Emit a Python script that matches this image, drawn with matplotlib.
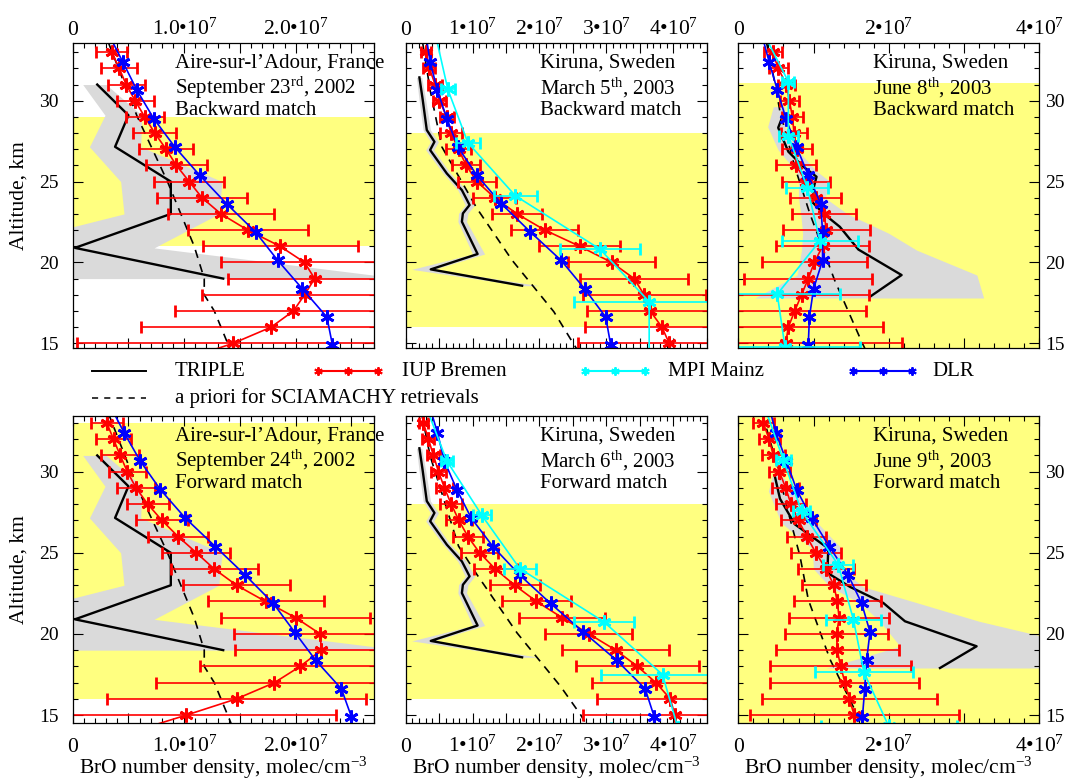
import matplotlib
matplotlib.use("Agg")
import matplotlib.pyplot as plt
from matplotlib.lines import Line2D
from matplotlib.ticker import MultipleLocator

plt.rcParams["font.family"] = ["Liberation Serif", "DejaVu Serif"]
plt.rcParams["mathtext.fontset"] = "custom"
plt.rcParams["mathtext.rm"] = "Liberation Serif"
plt.rcParams["mathtext.it"] = "Liberation Serif:italic"

RED, BLUE, CYAN = "#ff0000", "#0000ff", "#00ffff"
YELLOW, GREY = "#ffff80", "#dadada"

# all densities in units of 1e7 molec/cm^3
IUP_ALT_AIRE = [33, 32, 31, 30, 29, 28, 27, 26, 25, 24, 23, 22, 21, 20, 19, 18, 17, 16, 15, 14]
IUP_ALT_KIR = [33, 32, 31, 30, 29, 28, 27, 26, 25, 24, 23, 22, 21, 20, 19, 18, 17, 16, 15]
DLR_ALT = [34.14, 32.39, 30.64, 28.89, 27.14, 25.38, 23.63, 21.88, 20.12, 18.37, 16.62, 14.9]

# Aire-sur-l'Adour, Sep 23 (backward)
iup_sep23 = [0.351, 0.417, 0.48, 0.56, 0.646, 0.736, 0.838, 0.93, 1.045, 1.16, 1.33, 1.57,
             1.86, 2.08, 2.17, 2.08, 1.98, 1.78, 1.44, 1.0]
iup_sep23_err = [0.14, 0.16, 0.165, 0.165, 0.17, 0.195, 0.24, 0.275, 0.315, 0.405, 0.475,
                 0.54, 0.695, 0.75, 0.78, 0.92, 1.06, 1.17, 1.4, 1.5]
dlr_sep23 = [0.32, 0.45, 0.577, 0.727, 0.916, 1.14, 1.38, 1.64, 1.84, 2.06, 2.28, 2.33]

# Aire-sur-l'Adour, Sep 24 (forward)
iup_sep24 = [0.306, 0.366, 0.426, 0.49, 0.568, 0.673, 0.80, 0.946, 1.11, 1.27, 1.47, 1.73,
             2.0, 2.22, 2.23, 2.04, 1.81, 1.47, 1.02, 0.55]
iup_sep24_err = [0.143, 0.156, 0.173, 0.168, 0.173, 0.188, 0.23, 0.27, 0.305, 0.39, 0.48,
                 0.52, 0.67, 0.77, 0.77, 0.9, 1.06, 1.16, 1.34, 1.4]
dlr_sep24 = [0.33, 0.462, 0.607, 0.787, 1.01, 1.28, 1.547, 1.80, 1.99, 2.18, 2.41, 2.50]

# Kiruna, Mar 5 (backward)
iup_mar5 = [0.305, 0.355, 0.44, 0.505, 0.615, 0.675, 0.79, 0.905, 1.065, 1.33, 1.665, 2.08,
            2.6, 3.08, 3.415, 3.565, 3.655, 3.83, 3.94]
iup_mar5_err = [0.075, 0.09, 0.1, 0.1, 0.1, 0.16, 0.19, 0.21, 0.28, 0.32, 0.37, 0.5, 0.61,
                0.65, 0.81, 0.92, 0.95, 1.15, 1.36]
dlr_mar5 = [0.30, 0.365, 0.475, 0.615, 0.78, 1.065, 1.43, 1.865, 2.325, 2.675, 2.99, 3.065]
mpi_mar5_alt = [34.0, 30.7, 27.4, 24.12, 20.82, 17.57, 14.27]
mpi_mar5 = [0.45, 0.63, 0.93, 1.64, 2.905, 3.64, 3.64]
mpi_mar5_err = [0.1, 0.105, 0.18, 0.325, 0.6, 1.13, 1.2]

# Kiruna, Mar 6 (forward)
iup_mar6 = [0.265, 0.34, 0.415, 0.49, 0.58, 0.68, 0.795, 0.93, 1.105, 1.34, 1.63, 1.955,
            2.34, 2.74, 3.14, 3.465, 3.74, 3.955, 4.025]
iup_mar6_err = [0.07, 0.09, 0.1, 0.115, 0.125, 0.16, 0.19, 0.23, 0.275, 0.325, 0.375, 0.51,
                0.64, 0.65, 0.8, 0.915, 0.95, 1.1, 1.37]
dlr_mar6 = [0.35, 0.475, 0.58, 0.765, 0.98, 1.305, 1.705, 2.165, 2.655, 3.155, 3.58, 3.715]
mpi_mar6_alt = [33.95, 30.66, 27.3, 24.03, 20.74, 17.49, 14.2]
mpi_mar6 = [0.31, 0.615, 1.14, 1.705, 2.965, 3.84, 4.07]
mpi_mar6_err = [0.08, 0.09, 0.14, 0.24, 0.45, 0.92, 1.0]

# Kiruna, Jun 8 (backward)
iup_jun8 = [0.456, 0.53, 0.64, 0.678, 0.72, 0.74, 0.775, 0.766, 0.9, 1.03, 1.14, 1.17, 1.12,
            1.01, 0.93, 0.84, 0.75, 0.665, 0.63]
iup_jun8_err = [0.12, 0.126, 0.11, 0.126, 0.145, 0.17, 0.2, 0.26, 0.32, 0.34, 0.42, 0.58,
                0.62, 0.7, 0.85, 0.9, 0.95, 1.26, 1.54]
dlr_jun8 = [0.31, 0.41, 0.52, 0.633, 0.775, 0.93, 1.095, 1.12, 1.12, 1.0, 0.945, 0.93]
mpi_jun8_alt = [34.5, 31.18, 27.84, 24.62, 21.34, 18.04, 14.78]
mpi_jun8 = [0.3, 0.665, 0.665, 0.917, 1.085, 0.518, 0.62]
mpi_jun8_err = [0.08, 0.08, 0.13, 0.28, 0.51, 0.84, 1.0]

# Kiruna, Jun 9 (forward)
iup_jun9 = [0.332, 0.41, 0.465, 0.545, 0.63, 0.70, 0.80, 0.91, 1.03, 1.165, 1.27, 1.315,
            1.34, 1.307, 1.315, 1.36, 1.417, 1.475, 1.54]
iup_jun9_err = [0.14, 0.14, 0.15, 0.14, 0.18, 0.2, 0.23, 0.26, 0.33, 0.37, 0.43, 0.58, 0.66,
                0.68, 0.82, 0.94, 0.99, 1.16, 1.39]
dlr_jun9 = [0.40, 0.5, 0.64, 0.775, 0.975, 1.21, 1.46, 1.64, 1.75, 1.705, 1.68, 1.65]
mpi_jun9_alt = [34.0, 30.7, 27.57, 24.24, 20.88, 17.63, 14.3]
mpi_jun9 = [0.35, 0.6, 0.84, 1.33, 1.53, 1.67, 2.0]
mpi_jun9_err = [0.08, 0.1, 0.11, 0.2, 0.36, 0.65, 0.9]

# TRIPLE balloon profiles and their uncertainty band
triple_aire_alt = [31.0, 29.1, 27.15, 25.0, 23.0, 20.9, 19.0]
triple_aire = [0.22, 0.50, 0.38, 0.88, 0.88, 0.02, 1.35]
band_aire_lo = [0.09, 0.29, 0.15, 0.43, 0.46, -0.75, -0.5]
band_aire_hi = [0.30, 0.62, 0.61, 1.34, 1.31, 0.73, 2.95]

triple_mar_alt = [31.44, 30.04, 28.19, 27.46, 26.95, 25.5, 24.47, 23.55, 23.03, 22.52,
                  20.52, 19.57, 18.56]
triple_mar = [0.205, 0.255, 0.315, 0.43, 0.365, 0.615, 0.84, 0.955, 0.855, 0.84, 1.075,
              0.375, 1.74]
band_mar_lo = [0.16, 0.20, 0.26, 0.37, 0.30, 0.56, 0.78, 0.89, 0.79, 0.78, 1.0, 0.09, 1.74]
band_mar_hi = [0.24, 0.30, 0.37, 0.49, 0.42, 0.67, 0.91, 1.03, 0.93, 0.91, 1.18, 0.42, 2.0]

triple_jun8_alt = [29.15, 28.33, 26.85, 25.92, 25.3, 24.68, 23.71, 23.03, 22.2, 20.8, 19.22, 17.88]
triple_jun8 = [0.598, 0.53, 0.665, 0.864, 1.04, 1.005, 0.988, 1.13, 1.35, 1.595, 2.17, 1.75]
band_jun8_alt = [29.63, 28.39, 26.95, 25.6, 25.0, 24.0, 23.0, 21.8, 20.76, 19.22, 17.8]
band_jun8_lo = [0.465, 0.39, 0.53, 0.775, 0.80, 0.80, 0.83, 0.855, 0.84, 0.78, 0.22]
band_jun8_hi = [0.62, 0.62, 0.78, 1.05, 1.22, 1.15, 1.45, 2.0, 2.37, 3.17, 3.26]

triple_jun9_alt = [29.69, 28.33, 26.75, 25.27, 23.77, 22.9, 21.91, 20.78, 19.24, 17.9]
triple_jun9 = [0.487, 0.554, 0.753, 1.196, 1.183, 1.484, 1.927, 2.215, 3.167, 2.68]
band_jun9_alt = [29.85, 28.8, 26.85, 25.27, 24.0, 22.9, 21.9, 20.78, 19.24, 17.9]
band_jun9_lo = [0.46, 0.40, 0.57, 0.98, 1.0, 1.22, 1.62, 1.88, 2.15, 1.17]
band_jun9_hi = [0.56, 0.75, 1.05, 1.37, 1.37, 1.66, 2.39, 3.2, 4.6, 4.6]

# a priori profiles for SCIAMACHY retrievals
apri_aire_alt = [33.6, 29.0, 25.0, 23.0, 21.0, 19.0, 18.0, 17.0, 15.0, 14.5]
apri_aire = [0.32, 0.58, 0.85, 0.97, 1.09, 1.18, 1.18, 1.27, 1.39, 1.42]
apri_mar5_alt = [33.55, 30.66, 27.15, 23.34, 20.14, 16.95, 14.99, 14.5]
apri_mar5 = [0.255, 0.365, 0.54, 1.065, 1.59, 2.215, 2.505, 2.58]
apri_mar6_alt = [33.54, 30.97, 25.41, 23.66, 20.06, 16.77, 15.02, 14.5]
apri_mar6 = [0.24, 0.365, 0.79, 1.065, 1.665, 2.315, 2.615, 2.69]
apri_jun8_alt = [33.55, 31.07, 29.42, 25.92, 23.03, 18.9, 15.09, 14.5]
apri_jun8 = [0.377, 0.487, 0.55, 0.75, 0.95, 1.28, 1.64, 1.7]
apri_jun9_alt = [33.54, 30.86, 27.88, 24.79, 22.12, 18.42, 15.12, 14.5]
apri_jun9 = [0.32, 0.487, 0.642, 0.82, 0.93, 1.22, 1.57, 1.62]

PANELS = [
    dict(row=0, col=0, title=["Aire-sur-l\u2019Adour, France", "September 23$^{\\mathrm{rd}}$, 2002", "Backward match"],
         yellow=(21, 29), xmax=2.7, ticks=[0, 1, 2], labels=["0", "1.0\u202210$^{7}$", "2.0\u202210$^{7}$"],
         triple=(triple_aire_alt, triple_aire), band=(triple_aire_alt, band_aire_lo, band_aire_hi),
         apri=(apri_aire_alt, apri_aire), iup=(IUP_ALT_AIRE, iup_sep23, iup_sep23_err),
         dlr=dlr_sep23, mpi=None),
    dict(row=0, col=1, title=["Kiruna, Sweden", "March 5$^{\\mathrm{th}}$, 2003", "Backward match"],
         yellow=(16, 28), xmax=4.5, ticks=[0, 1, 2, 3, 4],
         labels=["0"] + [f"{i}\u202210$^{{7}}$" for i in (1, 2, 3, 4)],
         triple=(triple_mar_alt, triple_mar), band=(triple_mar_alt, band_mar_lo, band_mar_hi),
         apri=(apri_mar5_alt, apri_mar5), iup=(IUP_ALT_KIR, iup_mar5, iup_mar5_err),
         dlr=dlr_mar5, mpi=(mpi_mar5_alt, mpi_mar5, mpi_mar5_err)),
    dict(row=0, col=2, title=["Kiruna, Sweden", "June 8$^{\\mathrm{th}}$, 2003", "Backward match"],
         yellow=(14, 31.07), xmax=4.0, ticks=[0, 2, 4], labels=["0", "2\u202210$^{7}$", "4\u202210$^{7}$"],
         triple=(triple_jun8_alt, triple_jun8), band=(band_jun8_alt, band_jun8_lo, band_jun8_hi),
         apri=(apri_jun8_alt, apri_jun8), iup=(IUP_ALT_KIR, iup_jun8, iup_jun8_err),
         dlr=dlr_jun8, mpi=(mpi_jun8_alt, mpi_jun8, mpi_jun8_err)),
    dict(row=1, col=0, title=["Aire-sur-l\u2019Adour, France", "September 24$^{\\mathrm{th}}$, 2002", "Forward match"],
         yellow=(16, 33), xmax=2.7, ticks=[0, 1, 2], labels=["0", "1.0\u202210$^{7}$", "2.0\u202210$^{7}$"],
         triple=(triple_aire_alt, triple_aire), band=(triple_aire_alt, band_aire_lo, band_aire_hi),
         apri=(apri_aire_alt, apri_aire), iup=(IUP_ALT_AIRE, iup_sep24, iup_sep24_err),
         dlr=dlr_sep24, mpi=None),
    dict(row=1, col=1, title=["Kiruna, Sweden", "March 6$^{\\mathrm{th}}$, 2003", "Forward match"],
         yellow=(16, 28), xmax=4.5, ticks=[0, 1, 2, 3, 4],
         labels=["0"] + [f"{i}\u202210$^{{7}}$" for i in (1, 2, 3, 4)],
         triple=(triple_mar_alt, triple_mar), band=(triple_mar_alt, band_mar_lo, band_mar_hi),
         apri=(apri_mar6_alt, apri_mar6), iup=(IUP_ALT_KIR, iup_mar6, iup_mar6_err),
         dlr=dlr_mar6, mpi=(mpi_mar6_alt, mpi_mar6, mpi_mar6_err)),
    dict(row=1, col=2, title=["Kiruna, Sweden", "June 9$^{\\mathrm{th}}$, 2003", "Forward match"],
         yellow=(14, 34), xmax=4.0, ticks=[0, 2, 4], labels=["0", "2\u202210$^{7}$", "4\u202210$^{7}$"],
         triple=(triple_jun9_alt, triple_jun9), band=(band_jun9_alt, band_jun9_lo, band_jun9_hi),
         apri=(apri_jun9_alt, apri_jun9), iup=(IUP_ALT_KIR, iup_jun9, iup_jun9_err),
         dlr=dlr_jun9, mpi=(mpi_jun9_alt, mpi_jun9, mpi_jun9_err)),
]

W, H = 1067, 779
COL_LEFT = [72.7, 405.7, 738.3]
PANEL_W = 301
ROW_TOP = [43.3, 416.0]
ROW_BOT = [348.3, 722.7]
YLIMS = [(14.69, 33.55), (14.53, 33.43)]
STAR = (6, 2, 0)


def draw_panel(fig, p):
    r, c = p["row"], p["col"]
    rect = [COL_LEFT[c] / W, 1 - ROW_BOT[r] / H, PANEL_W / W, (ROW_BOT[r] - ROW_TOP[r]) / H]
    ax = fig.add_axes(rect)
    ax.set_xlim(0, p["xmax"])
    ax.set_ylim(*YLIMS[r])

    ax.axhspan(*p["yellow"], color=YELLOW, lw=0, zorder=0.5)
    b_alt, b_lo, b_hi = p["band"]
    ax.fill_betweenx(b_alt, b_lo, b_hi, color=GREY, lw=0, zorder=1)
    ax.plot(p["apri"][1], p["apri"][0], color="black", lw=1.2, ls=(0, (5, 4)), zorder=2)
    ax.plot(p["triple"][1], p["triple"][0], color="black", lw=1.7, zorder=2.5)

    i_alt, i_x, i_err = p["iup"]
    ax.errorbar(i_x, i_alt, xerr=i_err, color=RED, lw=1.2, elinewidth=1.2, capsize=4,
                marker=STAR, ms=10, mew=2.0, zorder=3)
    ax.plot(p["dlr"], DLR_ALT, color=BLUE, lw=1.2, marker=STAR, ms=10, mew=2.0, zorder=4)
    if p["mpi"] is not None:
        m_alt, m_x, m_err = p["mpi"]
        ax.errorbar(m_x, m_alt, xerr=m_err, color=CYAN, lw=1.2, elinewidth=1.2, capsize=4,
                    marker=STAR, ms=10, mew=2.0, zorder=5)

    for i, line in enumerate(p["title"]):
        x0 = 0.34 if c == 0 else 0.447
        ax.text(x0, [0.935, 0.855, 0.78][i], line, transform=ax.transAxes, fontsize=15,
                ha="left", va="center", zorder=6)

    ax.yaxis.set_major_locator(MultipleLocator(5))
    ax.yaxis.set_minor_locator(MultipleLocator(1))
    if c == 2:
        ax.xaxis.set_major_locator(MultipleLocator(1))
        ax.xaxis.set_minor_locator(MultipleLocator(0.2))
    else:
        ax.xaxis.set_major_locator(MultipleLocator(0.5))
        ax.xaxis.set_minor_locator(MultipleLocator(0.1))
    ax.tick_params(which="both", direction="in", top=True, right=True, bottom=True, left=True,
                   labelbottom=False, labeltop=False, width=0.8)
    ax.tick_params(which="major", length=7)
    ax.tick_params(which="minor", length=3.5)
    ax.tick_params(axis="y", labelsize=14)
    if c == 0:
        ax.tick_params(axis="y", labelleft=True, labelright=False, pad=10)
        ax.set_ylabel("Altitude, km", fontsize=15.5)
        ax.yaxis.set_label_coords(-0.148, 0.5)
    elif c == 2:
        ax.tick_params(axis="y", labelleft=False, labelright=True, pad=4.5)
    else:
        ax.tick_params(axis="y", labelleft=False, labelright=False)

    ypos = 1.027 if r == 0 else -0.095
    for t, lab in zip(p["ticks"], p["labels"]):
        ax.text(t, ypos, lab, transform=ax.get_xaxis_transform(), ha="center", va="baseline",
                fontsize=15.5)
    if r == 1:
        ax.text(0.5, -0.167, "BrO number density, molec/cm$^{-3}$", transform=ax.transAxes,
                ha="center", va="baseline", fontsize=15.5)
    for s in ax.spines.values():
        s.set_linewidth(0.9)
        s.set_zorder(7)
    return ax


def draw_legend(fig):
    def fx(px):
        return px / W

    def fy(py):
        return 1 - py / H

    y1, y2 = 371, 398
    entries = [
        (92, 146, 175, y1, dict(color="black", lw=1.4), "TRIPLE", False),
        (318, 378, 402, y1, dict(color=RED, lw=1.5), "IUP Bremen", True),
        (585, 645, 668, y1, dict(color=CYAN, lw=1.5), "MPI Mainz", True),
        (853, 912, 932, y1, dict(color=BLUE, lw=1.5), "DLR", True),
        (92, 146, 175, y2, dict(color="black", lw=1.1, ls=(0, (4, 4))), "a priori for SCIAMACHY retrievals", False),
    ]
    for x0, x1, xt, y, style, label, marks in entries:
        xs = [fx(x0), fx((x0 + x1) / 2), fx(x1)] if marks else [fx(x0), fx(x1)]
        kw = dict(marker=STAR, ms=6, mew=1.4) if marks else {}
        fig.add_artist(Line2D(xs, [fy(y)] * len(xs), transform=fig.transFigure, **style, **kw))
        fig.text(fx(xt), fy(y), label, ha="left", va="center", fontsize=15)


fig = plt.figure(figsize=(W / 100, H / 100), dpi=100)
for panel in PANELS:
    draw_panel(fig, panel)
draw_legend(fig)
fig.savefig("out.png", dpi=100)
